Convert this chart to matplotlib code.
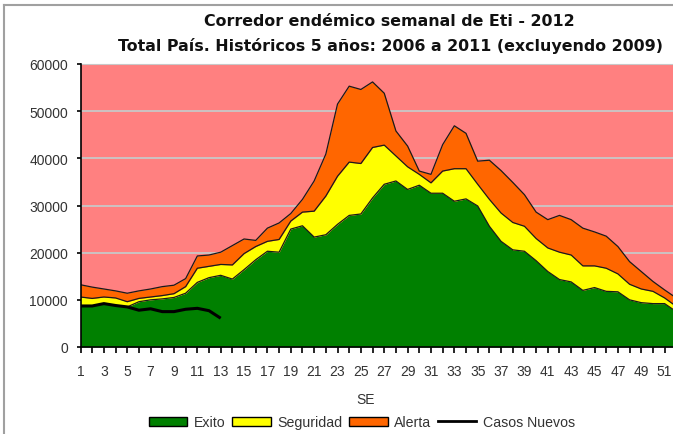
import numpy as np
import matplotlib
matplotlib.use('Agg')
import matplotlib.pyplot as plt
from matplotlib.patches import Patch
from matplotlib.lines import Line2D

plt.rcParams['font.family'] = ['Liberation Sans', 'DejaVu Sans']

# semanas epidemiologicas
semanas = np.arange(1, 53)

# limites del corredor (casos)
exito = [8700, 8700, 9200, 8800, 8500, 9600, 10000, 10200, 10500, 11400,
         13700, 14700, 15200, 14400, 16400, 18500, 20300, 20100, 25000, 25700,
         23300, 23800, 26000, 27900, 28200, 31600, 34500, 35200, 33400, 34300,
         32600, 32600, 30900, 31400, 29900, 25600, 22400, 20600, 20300, 18300,
         16000, 14300, 13800, 12000, 12600, 11800, 11700, 10000, 9400, 9200,
         9200, 7500]
seguridad = [10600, 10300, 10600, 10400, 9600, 10300, 10600, 10900, 11300, 12800,
             16700, 17100, 17500, 17400, 19800, 21300, 22400, 22800, 26700, 28600,
             28800, 32000, 36200, 39200, 38900, 42300, 42800, 40500, 38200, 36600,
             34800, 37300, 37800, 37800, 34500, 31300, 28400, 26400, 25600, 23000,
             21000, 20100, 19500, 17200, 17200, 16700, 15500, 13300, 12300, 11800,
             10400, 8600]
alerta = [13200, 12700, 12300, 11900, 11400, 11900, 12300, 12800, 13100, 14500,
          19300, 19500, 20100, 21500, 22900, 22600, 25200, 26300, 28300, 31300,
          35200, 40900, 51500, 55300, 54600, 56200, 53800, 45800, 42600, 37300,
          36600, 42900, 46900, 45300, 39400, 39600, 37400, 34900, 32300, 28600,
          27000, 27900, 27000, 25200, 24400, 23500, 21300, 18100, 16000, 13900,
          12100, 10400]

# casos 2012
semanas_2012 = np.arange(1, 14)
casos_nuevos = [8700, 8700, 9200, 8800, 8500, 7800, 8100, 7500, 7500, 8000,
                8200, 7700, 6100]

yticks = [0, 10000, 20000, 30000, 40000, 50000, 60000]

W, H = 673, 435
fig = plt.figure(figsize=(W / 100, H / 100), dpi=100)
ax = fig.add_axes([80.5 / W, (H - 348) / H, (676.3 - 80.5) / W, (348 - 65) / H])
ax.set_facecolor('#FF8080')
ax.set_xlim(1, 52)
ax.set_ylim(0, 60000)

for y in yticks[1:-1]:
    ax.axhline(y, color='#C8C8C8', lw=1.3, zorder=0.5)

ax.fill_between(semanas, 0, exito, color='#008000', lw=0, zorder=2)
ax.fill_between(semanas, exito, seguridad, color='#FFFF00', lw=0, zorder=2)
ax.fill_between(semanas, seguridad, alerta, color='#FF6600', lw=0, zorder=2)
for serie in (exito, seguridad, alerta):
    ax.plot(semanas, serie, color='#1a1a1a', lw=0.9, zorder=3)
ax.plot(semanas_2012, casos_nuevos, color='black', lw=2.2, zorder=4,
        solid_capstyle='butt')

ax.spines['right'].set_visible(False)
ax.spines['top'].set_color('#C8C8C8')
for s in ('left', 'bottom'):
    ax.spines[s].set_color('black')
    ax.spines[s].set_linewidth(1.2)
    ax.spines[s].set_zorder(5)

ax.set_xticks(semanas)
ax.set_xticklabels([str(w) if w % 2 == 1 else '' for w in semanas])
ax.set_yticks(yticks)
ax.set_yticklabels([str(v) for v in yticks])
ax.tick_params(axis='x', direction='out', length=4, width=1.2, pad=8,
               labelsize=10, labelcolor='#333333')
ax.tick_params(axis='y', direction='out', length=3, width=1.2, pad=6,
               labelsize=10, labelcolor='#333333')

fig.text(389 / W, 1 - 26 / H, 'Corredor endémico semanal de Eti - 2012',
         ha='center', va='baseline', fontsize=11.4, fontweight='bold',
         family='DejaVu Sans', color='#111111')
fig.text(390 / W, 1 - 51 / H,
         'Total País. Históricos 5 años: 2006 a 2011 (excluyendo 2009)',
         ha='center', va='baseline', fontsize=11.4, fontweight='bold',
         family='DejaVu Sans', color='#111111')

fig.text(366 / W, 1 - 400 / H, 'SE', ha='center', va='center', fontsize=10,
         color='#333333')

handles = [Patch(facecolor='#008000', edgecolor='black', lw=1),
           Patch(facecolor='#FFFF00', edgecolor='black', lw=1),
           Patch(facecolor='#FF6600', edgecolor='black', lw=1),
           Line2D([], [], color='black', lw=2)]
labels = ['Exito', 'Seguridad', 'Alerta', 'Casos Nuevos']
leg = fig.legend(handles, labels, loc='center', bbox_to_anchor=(362 / W, 1 - 423 / H),
                 ncol=4, frameon=False, fontsize=10.2, handlelength=2.7,
                 handleheight=0.6, handletextpad=0.45, columnspacing=0.5)
for t in leg.get_texts():
    t.set_color('#333333')

# marco gris de la captura
fig.add_artist(Line2D([4 / W, 4 / W], [0, 1 - 6 / H], color='#A0A0A0', lw=1.5))
fig.add_artist(Line2D([4 / W, 1], [1 - 6 / H, 1 - 6 / H], color='#A0A0A0', lw=1.5))

fig.savefig('out.png', dpi=100)
